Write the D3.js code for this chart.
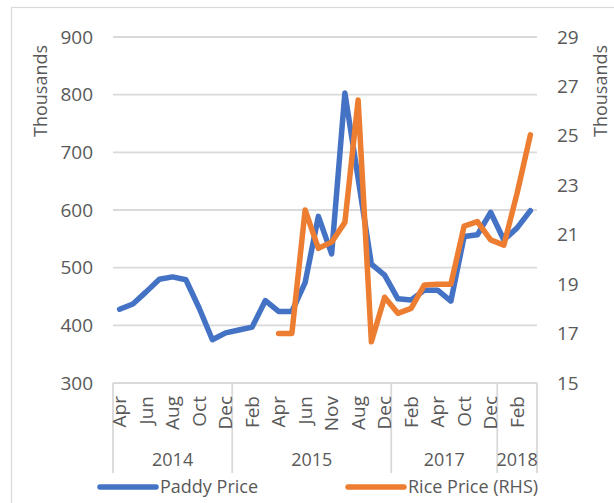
<!DOCTYPE html>
<html>
<head>
<meta charset="utf-8">
<script src="https://cdn.jsdelivr.net/npm/d3@7"></script>
<style>
  html, body { margin: 0; padding: 0; background: #fff; }
  svg { display: block; font-family: 'Open Sans', sans-serif; }
  .tick-label { fill: #595959; }
</style>
</head>
<body>
<svg id="chart" width="614" height="503"></svg>
<script>
// month of each category (only every other one is printed)
const months = ['Apr', 'May', 'Jun', 'Jul', 'Aug', 'Sep', 'Oct', 'Nov', 'Dec',
  'Jan', 'Feb', 'Mar', 'Apr', 'May', 'Jun', 'Sep', 'Nov', 'Jul', 'Aug', 'Oct', 'Dec',
  'Jan', 'Feb', 'Mar', 'Apr', 'Sep', 'Oct', 'Nov', 'Dec',
  'Jan', 'Feb', 'Mar']
const yearLabels = ['2014', '2015', '2017', '2018']
const yearSpans = [9, 12, 8, 3]

// thousands
const paddy = [428, 437, 458, 480, 484, 479, 430, 375, 387, 392, 397, 443, 424, 424,
  474, 589, 524, 803, 655, 506, 487, 446, 444, 461, 461, 442, 554, 557, 596, 548, 569, 599]
const rice = [null, null, null, null, null, null, null, null, null, null, null, null,
  17.0, 17.0, 22.0, 20.45, 20.7, 21.5, 26.45, 16.67, 18.47, 17.82, 18.02, 18.97,
  19.0, 19.0, 21.35, 21.53, 20.79, 20.58, 22.68, 25.04]

const leftTicks = [300, 400, 500, 600, 700, 800, 900]
const rightTicks = [15, 17, 19, 21, 23, 25, 27, 29]

const seriesNames = ['Paddy Price', 'Rice Price (RHS)']
const colors = ['#4472C4', '#ED7D31']

//

const svg = d3.select('#chart')
const plot = { left: 113, right: 537, top: 37, bottom: 383 }
const gridColor = '#d9d9d9'
const textColor = '#595959'

// outer chart border
svg.append('rect')
  .attr('x', 11.5).attr('y', 7.5)
  .attr('width', 640).attr('height', 540)
  .attr('fill', 'none')
  .attr('stroke', gridColor)
  .attr('stroke-width', 1.2)

const x = d3.scaleBand()
  .domain(d3.range(months.length))
  .range([plot.left, plot.right])
  .padding(0)

const yL = d3.scaleLinear().domain([300, 900]).range([plot.bottom, plot.top])
const yR = d3.scaleLinear().domain([15, 29]).range([plot.bottom, plot.top])

const cx = (i) => x(i) + x.bandwidth() / 2

// gridlines
svg.append('g')
  .selectAll('line')
  .data(leftTicks)
  .join('line')
  .attr('x1', plot.left).attr('x2', plot.right)
  .attr('y1', (d) => yL(d)).attr('y2', (d) => yL(d))
  .attr('stroke', gridColor)
  .attr('stroke-width', 1.8)

// left axis
const leftAxis = d3.axisLeft(yL).tickValues(leftTicks).tickSize(0).tickPadding(0)
const gL = svg.append('g')
  .attr('transform', `translate(93,0)`)
  .call(leftAxis)
gL.select('.domain').remove()
gL.selectAll('text')
  .attr('fill', textColor)
  .style('font-size', '19px')
  .style('font-family', "'Open Sans', sans-serif")

// right axis
const rightAxis = d3.axisRight(yR).tickValues(rightTicks).tickSize(0).tickPadding(0)
const gR = svg.append('g')
  .attr('transform', `translate(557,0)`)
  .call(rightAxis)
gR.select('.domain').remove()
gR.selectAll('text')
  .attr('fill', textColor)
  .style('font-size', '19px')
  .style('font-family', "'Open Sans', sans-serif")

// axis titles
svg.append('text')
  .attr('transform', 'translate(41,91) rotate(-90)')
  .attr('text-anchor', 'middle')
  .attr('dy', '0.35em')
  .attr('fill', textColor)
  .style('font-size', '18px')
  .text('Thousands')

svg.append('text')
  .attr('transform', 'translate(601,91) rotate(-90)')
  .attr('text-anchor', 'middle')
  .attr('dy', '0.35em')
  .attr('fill', textColor)
  .style('font-size', '18px')
  .text('Thousands')

// category axis: group separators
const bounds = [0]
yearSpans.forEach((n, i) => bounds.push(bounds[i] + n))
const sepX = (k) => (k < months.length ? x(k) : plot.right)

svg.append('g')
  .selectAll('line')
  .data(bounds)
  .join('line')
  .attr('x1', (d) => sepX(d)).attr('x2', (d) => sepX(d))
  .attr('y1', plot.bottom).attr('y2', 473)
  .attr('stroke', gridColor)
  .attr('stroke-width', 1.8)

// month labels
svg.append('g')
  .selectAll('text')
  .data(months.map((m, i) => ({ m, i })).filter((d) => d.i % 2 === 0))
  .join('text')
  .attr('transform', (d) => `translate(${cx(d.i)},396) rotate(-90)`)
  .attr('text-anchor', 'end')
  .attr('dy', '0.35em')
  .attr('fill', textColor)
  .style('font-size', '19px')
  .text((d) => d.m)

// year labels
svg.append('g')
  .selectAll('text')
  .data(yearLabels)
  .join('text')
  .attr('x', (d, i) => (sepX(bounds[i]) + sepX(bounds[i + 1])) / 2)
  .attr('y', 460)
  .attr('dy', '0.35em')
  .attr('text-anchor', 'middle')
  .attr('fill', textColor)
  .style('font-size', '18px')
  .text((d) => d)

// lines
const paddyLine = d3.line()
  .x((d, i) => cx(i))
  .y((d) => yL(d))

const riceLine = d3.line()
  .defined((d) => d !== null)
  .x((d, i) => cx(i))
  .y((d) => yR(d))

svg.append('path')
  .datum(paddy)
  .attr('d', paddyLine)
  .attr('fill', 'none')
  .attr('stroke', colors[0])
  .attr('stroke-width', 5.5)
  .attr('stroke-linejoin', 'round')
  .attr('stroke-linecap', 'round')

svg.append('path')
  .datum(rice)
  .attr('d', riceLine)
  .attr('fill', 'none')
  .attr('stroke', colors[1])
  .attr('stroke-width', 5.5)
  .attr('stroke-linejoin', 'round')
  .attr('stroke-linecap', 'round')

// legend
const legendX = [100, 348]
const legend = svg.append('g')
  .selectAll('g')
  .data(seriesNames)
  .join('g')
  .attr('transform', (d, i) => `translate(${legendX[i]},487)`)

legend.append('line')
  .attr('x1', 0).attr('x2', 56)
  .attr('stroke', (d, i) => colors[i])
  .attr('stroke-width', 5.5)
  .attr('stroke-linecap', 'round')

legend.append('text')
  .attr('x', 60)
  .attr('dy', '0.35em')
  .attr('fill', textColor)
  .style('font-size', '18px')
  .text((d) => d)
</script>
</body>
</html>
